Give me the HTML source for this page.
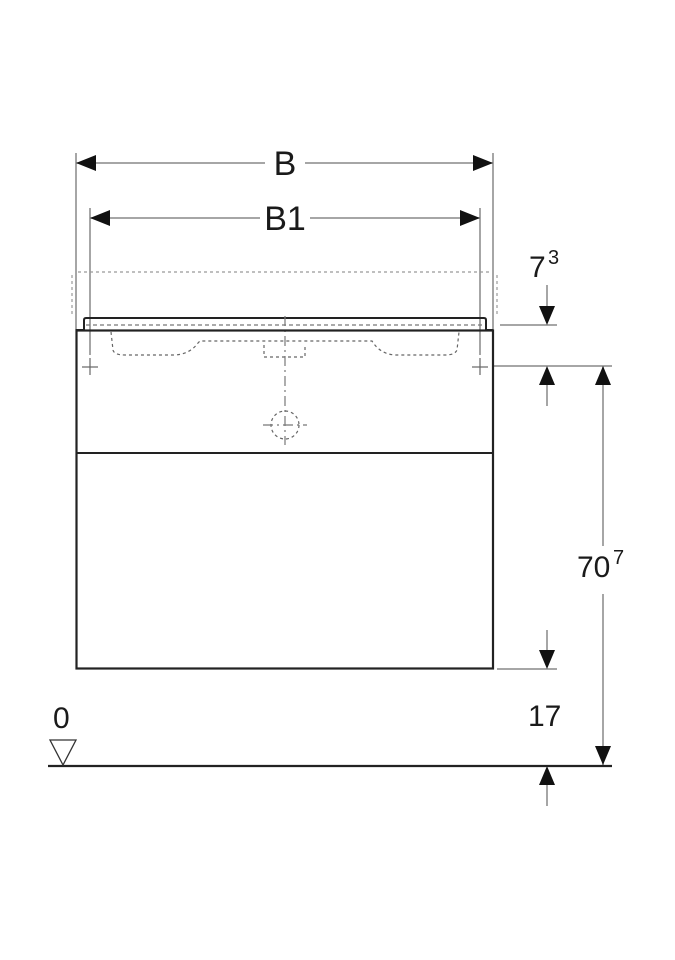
<!DOCTYPE html>
<html><head><meta charset="utf-8"><style>
html,body{margin:0;padding:0;background:#fff;}
svg{display:block;}
text{font-family:"Liberation Sans",Arial,sans-serif;fill:#1a1a1a;}
</style></head><body>
<svg width="675" height="960" viewBox="0 0 675 960" xmlns="http://www.w3.org/2000/svg">
<g stroke="#888" stroke-width="1.5" fill="none">
  <!-- extension lines -->
  <line x1="76" y1="153" x2="76" y2="330"/>
  <line x1="493" y1="153" x2="493" y2="330"/>
  <line x1="90" y1="208" x2="90" y2="355"/>
  <line x1="480" y1="208" x2="480" y2="355"/>
  <!-- B dims -->
  <line x1="76" y1="163" x2="265" y2="163"/>
  <line x1="305" y1="163" x2="493" y2="163"/>
  <line x1="90" y1="218" x2="260" y2="218"/>
  <line x1="310" y1="218" x2="480" y2="218"/>
  <!-- right dims -->
  <line x1="500" y1="325" x2="557" y2="325"/>
  <line x1="547" y1="285" x2="547" y2="310"/>
  <line x1="493" y1="366" x2="612" y2="366"/>
  <line x1="547" y1="380" x2="547" y2="406"/>
  <line x1="603" y1="366" x2="603" y2="546"/>
  <line x1="603" y1="594" x2="603" y2="765"/>
  <line x1="497" y1="669" x2="557" y2="669"/>
  <line x1="547" y1="630" x2="547" y2="655"/>
  <line x1="547" y1="780" x2="547" y2="806"/>
</g>
<g fill="#111">
  <polygon points="76,163 96,155 96,171"/>
  <polygon points="493,163 473,155 473,171"/>
  <polygon points="90,218 110,210 110,226"/>
  <polygon points="480,218 460,210 460,226"/>
  <polygon points="547,325 539,306 555,306"/>
  <polygon points="547,366 539,385 555,385"/>
  <polygon points="603,366 595,385 611,385"/>
  <polygon points="603,765 595,746 611,746"/>
  <polygon points="547,669 539,650 555,650"/>
  <polygon points="547,766 539,785 555,785"/>
</g>
<!-- dashed top outline -->
<g stroke="#999" stroke-width="1.2" fill="none" stroke-dasharray="3,3">
  <line x1="78" y1="272" x2="492" y2="272"/>
  <line x1="72" y1="275" x2="72" y2="315"/>
  <line x1="497" y1="275" x2="497" y2="315"/>
</g>
<!-- sink slab -->
<path d="M76,330 L84,330 L84,320 Q84,318 86,318 L484,318 Q486,318 486,320 L486,330 L493,330" stroke="#222" stroke-width="2" fill="none"/>
<line x1="86" y1="325" x2="484" y2="325" stroke="#777" stroke-width="1.2" stroke-dasharray="4,3"/>
<!-- basin dashed -->
<path d="M111,332 L113,350 Q114,355 125,355 L175,355 Q190,354 198,343 L200,341 L372,341 Q380,354 395,355 L445,355 Q455,355 457,350 L459,332" stroke="#666" stroke-width="1.2" fill="none" stroke-dasharray="3,3"/>
<path d="M264,345 L264,357 L305,357 L305,345" stroke="#666" stroke-width="1.2" fill="none" stroke-dasharray="3,3"/>
<!-- center line -->
<line x1="285" y1="316" x2="285" y2="445" stroke="#777" stroke-width="1.2" stroke-dasharray="10,4,2,4"/>
<circle cx="285" cy="425" r="14" stroke="#666" stroke-width="1.2" fill="none" stroke-dasharray="3,3"/>
<line x1="263" y1="425" x2="307" y2="425" stroke="#777" stroke-width="1.2" stroke-dasharray="10,4,2,4"/>
<!-- hanger marks -->
<g stroke="#666" stroke-width="1.2">
  <line x1="82" y1="367" x2="98" y2="367"/><line x1="90" y1="358" x2="90" y2="375"/>
  <line x1="472" y1="367" x2="488" y2="367"/><line x1="480" y1="358" x2="480" y2="375"/>
</g>
<!-- cabinet -->
<rect x="76.5" y="330.5" width="416.5" height="338" stroke="#222" stroke-width="2.2" fill="none"/>
<line x1="76" y1="453" x2="493" y2="453" stroke="#222" stroke-width="2"/>
<!-- ground -->
<line x1="48" y1="766" x2="612" y2="766" stroke="#222" stroke-width="2.2"/>
<polygon points="50,740 76,740 63,765" stroke="#333" stroke-width="1.3" fill="none"/>
<!-- labels -->
<text x="285" y="175" font-size="34" text-anchor="middle">B</text>
<text x="285" y="230" font-size="34" text-anchor="middle">B1</text>
<text x="529" y="277" font-size="30">7</text>
<text x="548" y="264" font-size="20">3</text>
<text x="577" y="577" font-size="30">70</text>
<text x="613" y="564" font-size="20">7</text>
<text x="528" y="726" font-size="30">17</text>
<text x="53" y="728" font-size="30">0</text>
</svg>
</body></html>
